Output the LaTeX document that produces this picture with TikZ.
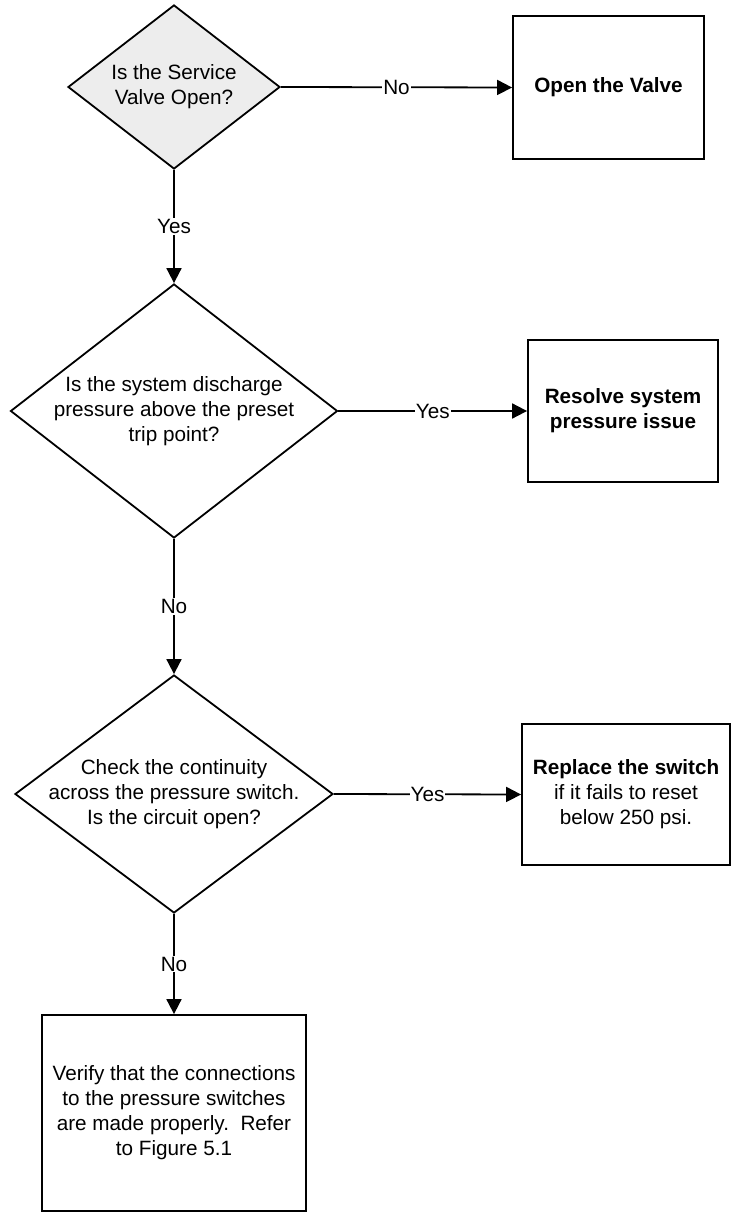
\documentclass[tikz,border=0pt]{standalone}
\usepackage{fontspec}
\setmainfont{Liberation Sans}
\usetikzlibrary{shapes.geometric,arrows.meta}
\definecolor{dfill}{HTML}{EDEDED}
\begin{document}
\begin{tikzpicture}[x=1pt,y=-1pt,
  every node/.style={font=\fontsize{20.7}{25}\selectfont},
  dec/.style={diamond, draw, line width=1.8pt, inner sep=0pt, minimum width=#1},
  box/.style={rectangle, draw, line width=1.8pt, inner sep=0pt, align=center},
  arr/.style={line width=1.8pt, -{Triangle[length=15pt,width=15pt]}},
  lbl/.style={fill=white, inner sep=1pt}]
\useasboundingbox (0,0) rectangle (735,1214);
% decisions
\node[dec=212pt, minimum height=164pt, fill=dfill,
  label={[align=center]center:Is the Service\\Valve Open?}] (d1) at (174,87) {};
\node[dec=327pt, minimum height=254pt, fill=white,
  label={[align=center]center:Is the system discharge\\pressure above the preset\\trip point?}] (d2) at (174,411) {};
\node[dec=318pt, minimum height=238pt, fill=white,
  label={[align=center]center:Check the continuity\\across the pressure switch.\\Is the circuit open?}] (d3) at (174,794) {};
% boxes
\node[box, minimum width=191pt, minimum height=143pt] (b1) at (608.5,87.5) {\textbf{Open the Valve}};
\node[box, minimum width=190pt, minimum height=142pt] (b2) at (623,411) {\textbf{Resolve system}\\\textbf{pressure issue}};
\node[box, minimum width=208pt, minimum height=141pt] (b3) at (626,794.5) {\textbf{Replace the switch}\\if it fails to reset\\below 250 psi.};
\node[box, minimum width=264pt, minimum height=196pt] (b4) at (174,1113) {Verify that the connections\\to the pressure switches\\are made properly.~~Refer\\to Figure 5.1};
% connectors
\draw[arr] (d1.east) -- node[lbl]{No} (b1.west);
\draw[arr] (d1.south) -- node[lbl]{Yes} (d2.north);
\draw[arr] (d2.east) -- node[lbl]{Yes} (b2.west);
\draw[arr] (d2.south) -- node[lbl]{No} (d3.north);
\draw[arr] (d3.east) -- node[lbl]{Yes} (b3.west);
\draw[arr] (d3.south) -- node[lbl]{No} (b4.north);
\end{tikzpicture}
\end{document}
